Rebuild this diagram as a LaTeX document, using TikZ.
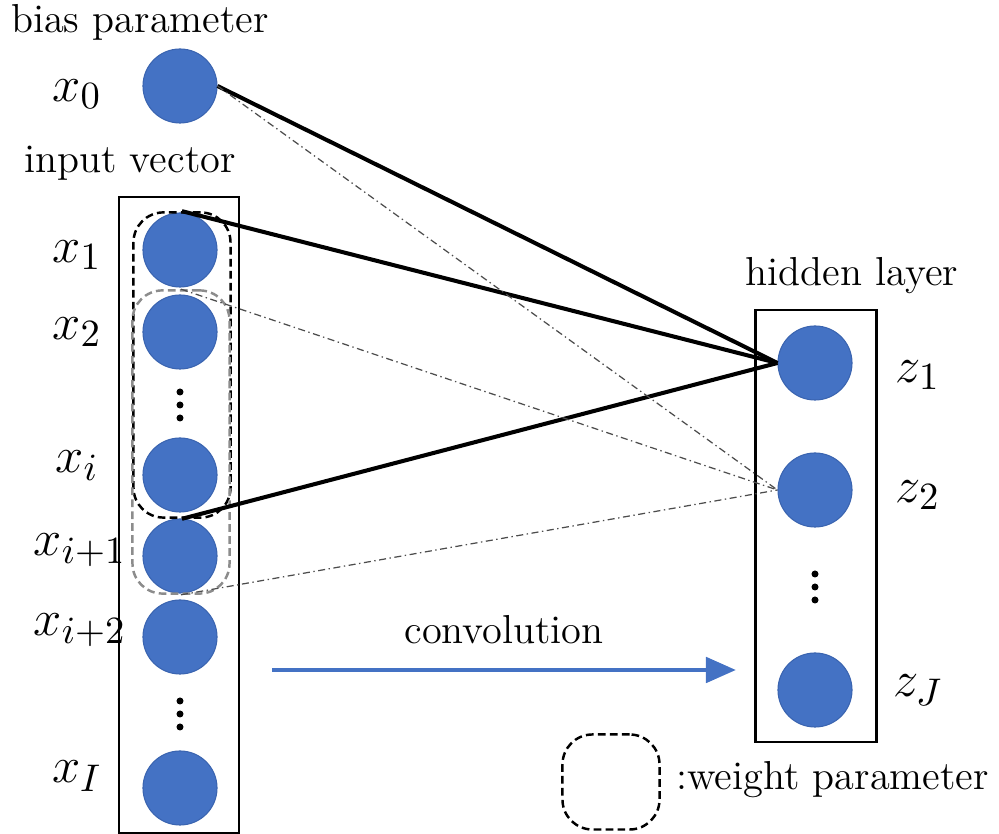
\documentclass[tikz,border=0pt]{standalone}
\usetikzlibrary{arrows.meta}
\definecolor{unitblue}{HTML}{4472C4}
\definecolor{unitedge}{HTML}{3A64B0}
\begin{document}
\begin{tikzpicture}[x=0.01cm, y=-0.01cm,
  unit/.style={circle, fill=unitblue, draw=unitedge, line width=0.3pt, minimum size=0.74cm, inner sep=0pt},
  lbl/.style={font=\fontsize{11.5}{13}\selectfont},
  var/.style={font=\fontsize{15.5}{17}\selectfont},
  layerbox/.style={draw, line width=0.6pt, inner sep=0pt},
  wbox/.style={draw, dash pattern=on 2.2pt off 1.2pt, line width=0.7pt, rounded corners=0.3cm, inner sep=0pt, minimum width=0.97cm},
  strong/.style={line width=1.15pt},
  weak/.style={dash pattern=on 2pt off 1pt on 0.4pt off 1pt, line width=0.35pt, black!70},
  dot/.style={circle, fill=black, inner sep=0pt, minimum size=0.07cm}]
\useasboundingbox (0,0) rectangle (999,834);

% layer frames
\node[layerbox, minimum width=1.20cm, minimum height=6.35cm] (inbox) at (179,515) {};
\node[layerbox, minimum width=1.21cm, minimum height=4.32cm] (hidbox) at (816,526) {};

% bias and input units
\node[unit] (x0) at (180,86) {};
\node[unit] (x1) at (180,250) {};
\node[unit] (x2) at (180,332) {};
\node[unit] (xi) at (180,475) {};
\node[unit] (xi1) at (180,556) {};
\node[unit] (xi2) at (180,637) {};
\node[unit] (xI) at (180,788) {};
\foreach \y/\n in {392/a,405/b,418/c} \node[dot] (din\n) at (180,\y) {};
\foreach \y/\n in {701/a,714/b,727/c} \node[dot] (dinl\n) at (180,\y) {};

% hidden units
\node[unit] (z1) at (815,363) {};
\node[unit] (z2) at (815,490) {};
\node[unit] (zJ) at (815,690) {};
\foreach \y/\n in {574/a,587/b,600/c} \node[dot] (dhid\n) at (815,\y) {};

% weight windows
\node[wbox, draw=black, minimum height=3.05cm] (wa) at (182,365) {};
\node[wbox, draw=black!45, minimum height=3.03cm] (wb) at (181,442) {};
\node[wbox, draw=black, minimum height=0.95cm] (wleg) at (611,782) {};

% connections
\draw[strong] (x0.east) -- (z1.west);
\draw[strong] (wa.north) -- (z1.west);
\draw[strong] (wa.south) -- (z1.west);
\draw[weak] (x0.east) -- (z2.west);
\draw[weak] (wb.north) -- (z2.west);
\draw[weak] (wb.south) -- (z2.west);

% convolution arrow
\coordinate (cs) at (272,670);
\coordinate (ce) at (736,670);
\draw[unitblue, line width=1.4pt, -{Triangle[length=0.3cm, width=0.25cm]}] (cs) -- (ce) node[midway, above=0.12cm, lbl, text=black] (conv) {convolution};

% labels
\node[lbl] (bias) at (140,22) {bias parameter};
\node[lbl] (inlab) at (130,163) {input vector};
\node[lbl] (hidlab) at (852,276) {hidden layer};
\node[lbl, anchor=west] (wlab) at (664,780) {:weight parameter};
\node[var] (lx0) at (77,94) {$x_0$};
\node[var] (lx1) at (77,255) {$x_1$};
\node[var] (lx2) at (77,332) {$x_2$};
\node[var] (lxi) at (77,466) {$x_i$};
\node[var] (lxi1) at (80,550) {$x_{i+1}$};
\node[var] (lxi2) at (80,630) {$x_{i+2}$};
\node[var] (lxI) at (77,776) {$x_I$};
\node[var] (lz1) at (918,375) {$z_1$};
\node[var] (lz2) at (918,495) {$z_2$};
\node[var] (lzJ) at (918,690) {$z_J$};
\end{tikzpicture}
\end{document}
